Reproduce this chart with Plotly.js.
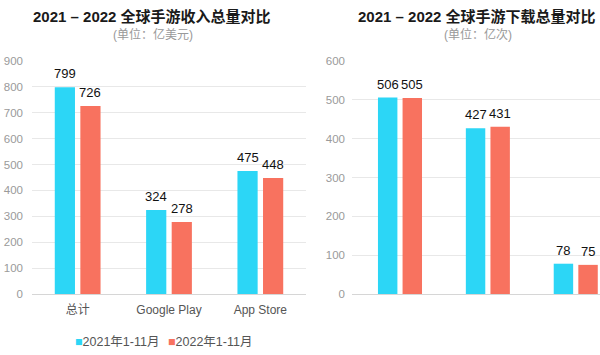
<!DOCTYPE html>
<html>
<head>
<meta charset="utf-8">
<script src="https://cdn.plot.ly/plotly-3.0.1.min.js"></script>
<style>html,body{margin:0;padding:0;background:#fff;overflow:hidden;}#chart{width:600px;height:355px;}</style>
</head>
<body>
<div id="chart"></div>
<script>
const categories = ['总计', 'Google Play', 'App Store'];
const seriesNames = ['2021年1-11月', '2022年1-11月'];
const revenue2021 = [799, 324, 475];
const revenue2022 = [726, 278, 448];
const downloads2021 = [506, 427, 78];
const downloads2022 = [505, 431, 75];
const leftTitle = '2021 – 2022 全球手游收入总量对比';
const leftUnit = '(单位：亿美元)';
const rightTitle = '2021 – 2022 全球手游下载总量对比';
const rightUnit = '(单位：亿次)';

const C1 = '#2CD6F6', C2 = '#F8725F';
const FONT = 'Arial, "Liberation Sans", "Noto Sans CJK SC", sans-serif';
const BARGAP = 0.44, GROUPGAP = 0.21;

function bar(y, name, color, xa, ya) {
  return {
    type: 'bar', x: categories, y: y, name: name, xaxis: xa, yaxis: ya,
    marker: {color: color}, showlegend: false, hoverinfo: 'none'
  };
}

const data = [
  bar(revenue2021, seriesNames[0], C1, 'x', 'y'),
  bar(revenue2022, seriesNames[1], C2, 'x', 'y'),
  bar(downloads2021, seriesNames[0], C1, 'x2', 'y2'),
  bar(downloads2022, seriesNames[1], C2, 'x2', 'y2')
];

const leftDomain = [32/600, 306/600];
const rightDomain = [352/600, 1];
const rightRange = [-0.546, 2.276];

const yb = (355 - 294) / 355, yt = (355 - 61) / 355;
const yaxisBase = {
  domain: [yb, yt], showgrid: true, gridcolor: '#e8e8e8', gridwidth: 1,
  zeroline: true, zerolinecolor: '#d6d6d6', dtick: 100, ticks: '',
  tickfont: {size: 11.5, color: '#9a9a9a', family: FONT}, showline: false, fixedrange: true
};
const xaxisBase = {
  type: 'category', showgrid: false, zeroline: false, showline: false, ticks: '',
  tickfont: {size: 12, color: '#555', family: FONT}, fixedrange: true, ticklabelstandoff: 7
};

function ann(text, x, y, size, color) {
  return {text: text, x: x / 600, y: (355 - y) / 355, xref: 'paper', yref: 'paper',
    showarrow: false, xanchor: 'center', yanchor: 'middle', font: {size: size, color: color, family: FONT}};
}
function legendItem(i, color, xLeft) {
  return {text: '<span style="color:' + color + '">■</span>' + seriesNames[i],
    x: xLeft / 600, y: (355 - 342) / 355, xref: 'paper', yref: 'paper', showarrow: false,
    xanchor: 'left', yanchor: 'middle', font: {size: 12.5, color: '#555', family: FONT}};
}
// value labels placed above each bar through the axes' own scales
function valueLabels(vals, seriesIdx, xa, ya, catWidthPx) {
  const slot = catWidthPx * (1 - BARGAP) / 2;
  const shift = (seriesIdx === 0 ? -0.5 : 0.5) * slot;
  return vals.map((v, i) => ({
    text: String(v), x: categories[i], y: v, xref: xa, yref: ya, showarrow: false,
    xanchor: 'center', yanchor: 'bottom', xshift: shift, yshift: 4,
    font: {size: 13, color: '#111', family: FONT}
  }));
}
const leftCat = (leftDomain[1] - leftDomain[0]) * 600 / categories.length;
const rightCat = (rightDomain[1] - rightDomain[0]) * 600 / (rightRange[1] - rightRange[0]);

const layout = {
  width: 600, height: 355,
  margin: {l: 0, r: 0, t: 0, b: 0},
  paper_bgcolor: '#fff', plot_bgcolor: 'rgba(0,0,0,0)',
  barmode: 'group', bargap: BARGAP, bargroupgap: GROUPGAP,
  font: {family: FONT},
  xaxis: Object.assign({}, xaxisBase, {domain: leftDomain, anchor: 'y'}),
  yaxis: Object.assign({}, yaxisBase, {range: [0, 900], anchor: 'x', ticklabelstandoff: 8}),
  xaxis2: Object.assign({}, xaxisBase, {domain: rightDomain, anchor: 'y2', range: rightRange, showticklabels: false}),
  yaxis2: Object.assign({}, yaxisBase, {range: [0, 600], anchor: 'x2', ticklabelstandoff: 6}),
  showlegend: false,
  annotations: [
    ann('<b>' + leftTitle + '</b>', 152, 16, 15, '#1a1a1a'),
    ann(leftUnit, 153, 35, 12, '#999'),
    ann('<b>' + rightTitle + '</b>', 477, 16, 15, '#1a1a1a'),
    ann(rightUnit, 478, 35, 12, '#999'),
    legendItem(0, C1, 73),
    legendItem(1, C2, 166)
  ].concat(
    valueLabels(revenue2021, 0, 'x', 'y', leftCat),
    valueLabels(revenue2022, 1, 'x', 'y', leftCat),
    valueLabels(downloads2021, 0, 'x2', 'y2', rightCat),
    valueLabels(downloads2022, 1, 'x2', 'y2', rightCat)
  )
};

Plotly.newPlot('chart', data, layout, {displayModeBar: false, staticPlot: true});
</script>
</body>
</html>
